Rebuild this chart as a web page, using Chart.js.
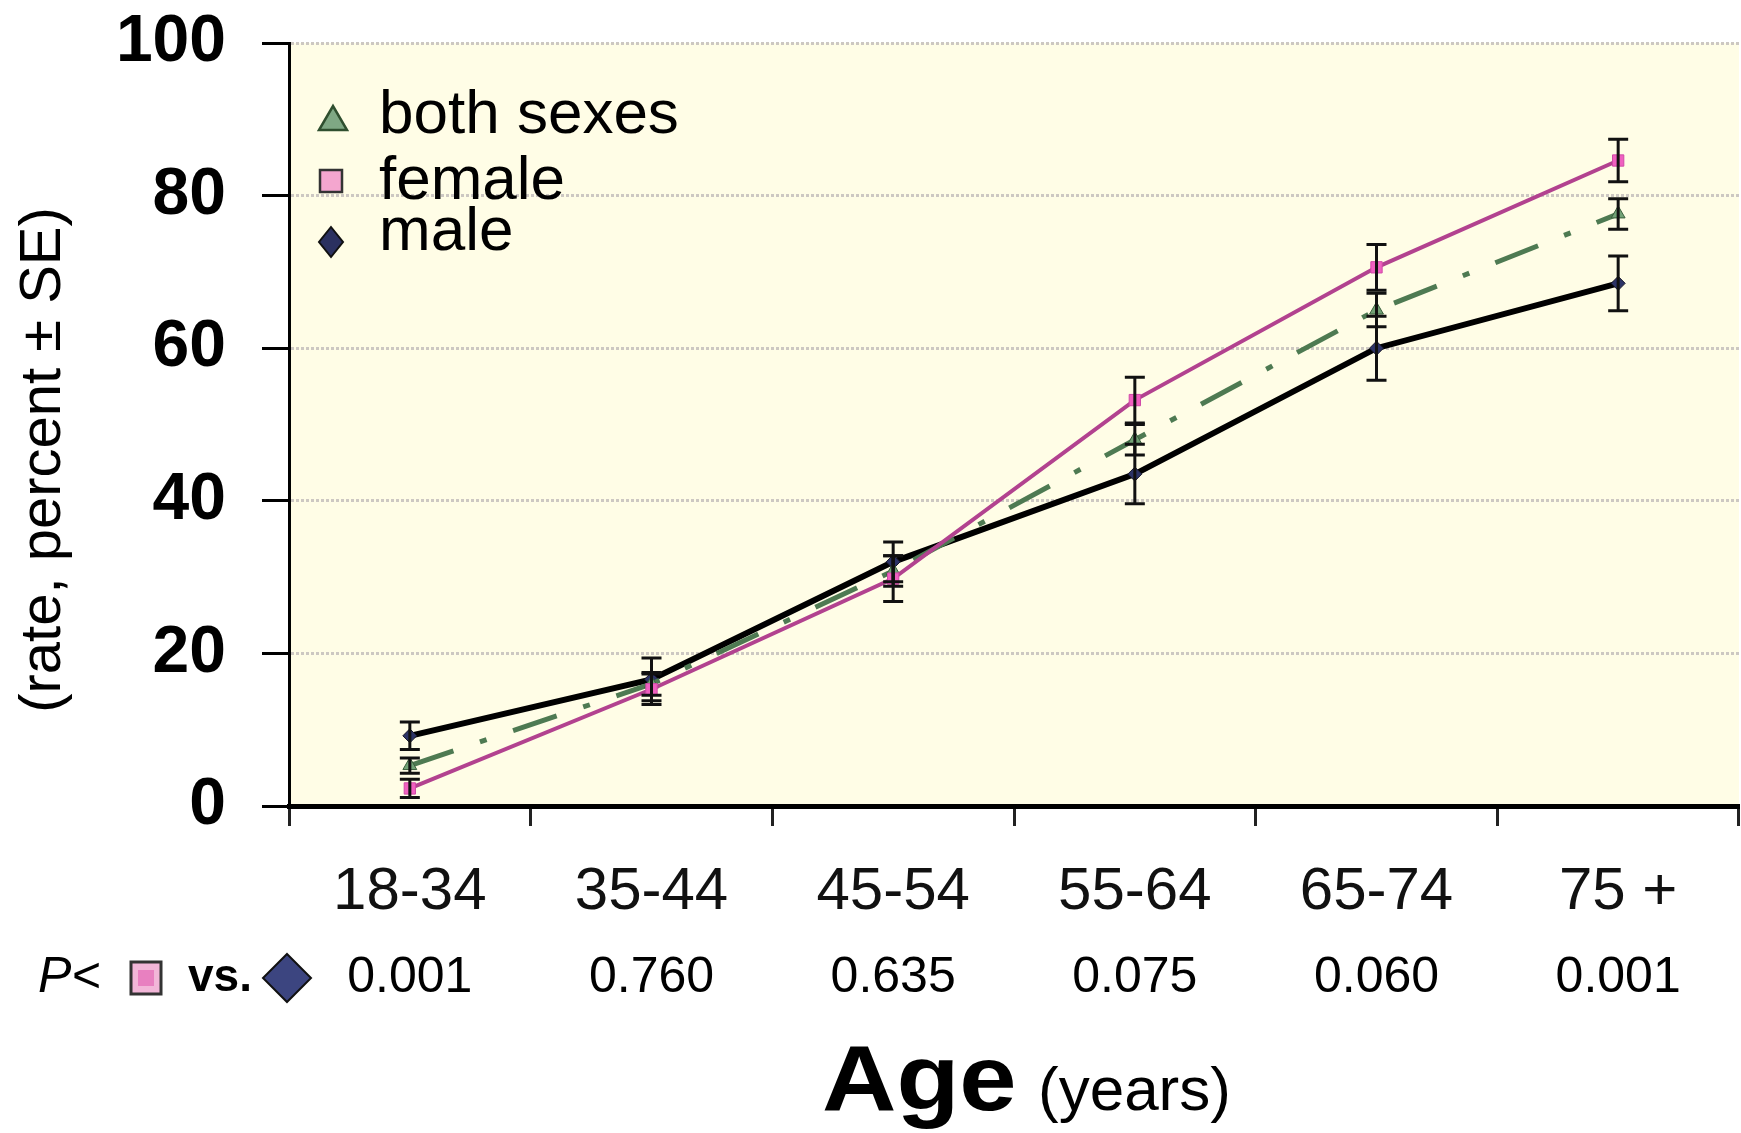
<!DOCTYPE html>
<html>
<head>
<meta charset="utf-8">
<script src="https://cdn.jsdelivr.net/npm/chart.js@4/dist/chart.umd.min.js"></script>
<style>
html, body { margin: 0; padding: 0; background: #fff; overflow: hidden; }
canvas { display: block; }
</style>
</head>
<body>
<canvas id="ageChart" width="1748" height="1133"></canvas>
<script>
// Values
var ageGroups = ['18-34', '35-44', '45-54', '55-64', '65-74', '75 +'];
var pValues = ['0.001', '0.760', '0.635', '0.075', '0.060', '0.001'];
var bothSexes = [5.3, 16.0, 30.8, 48.0, 65.0, 77.6];
var female = [2.3, 15.3, 29.8, 53.2, 70.6, 84.6];
var male = [9.2, 16.6, 32.0, 43.5, 60.0, 68.5];
var bothSE = [1.0, 1.5, 2.0, 2.0, 2.2, 2.0];
var femaleSE = [1.2, 2.0, 3.0, 3.0, 3.0, 2.8];
var maleSE = [1.8, 2.8, 2.6, 3.9, 4.2, 3.6];
var yTicks = [0, 20, 40, 60, 80, 100];

var FONT = '"Liberation Sans", Arial, sans-serif';

// cream plot background
var plotBg = {
    id: 'plotBg',
    beforeDraw: function(chart) {
        var a = chart.chartArea, ctx = chart.ctx;
        ctx.save();
        ctx.fillStyle = '#fffde6';
        ctx.fillRect(a.left, a.top, a.right - a.left, a.bottom - a.top);
        ctx.restore();
    }
};

// +/- SE whiskers, same order as datasets
var seLists = [femaleSE, bothSE, maleSE];
var errorBars = {
    id: 'errorBars',
    afterDatasetsDraw: function(chart) {
        var ctx = chart.ctx, y = chart.scales.y;
        ctx.save();
        ctx.strokeStyle = '#111';
        ctx.lineWidth = 3;
        chart.data.datasets.forEach(function(ds, i) {
            var meta = chart.getDatasetMeta(i);
            meta.data.forEach(function(pt, j) {
                var v = ds.data[j], e = seLists[i][j];
                var top = y.getPixelForValue(v + e), bot = y.getPixelForValue(v - e);
                ctx.beginPath();
                ctx.moveTo(pt.x, top); ctx.lineTo(pt.x, bot);
                ctx.moveTo(pt.x - 10, top); ctx.lineTo(pt.x + 10, top);
                ctx.moveTo(pt.x - 10, bot); ctx.lineTo(pt.x + 10, bot);
                ctx.stroke();
            });
        });
        ctx.restore();
    }
};

function diamond(ctx, cx, cy, w, h, fill, stroke) {
    ctx.beginPath();
    ctx.moveTo(cx, cy - h / 2);
    ctx.lineTo(cx + w / 2, cy);
    ctx.lineTo(cx, cy + h / 2);
    ctx.lineTo(cx - w / 2, cy);
    ctx.closePath();
    ctx.fillStyle = fill; ctx.fill();
    ctx.lineWidth = 2; ctx.strokeStyle = stroke; ctx.stroke();
}

// legend, p-value row, axis titles
var extras = {
    id: 'extras',
    afterDraw: function(chart) {
        var ctx = chart.ctx, x = chart.scales.x;
        ctx.save();
        ctx.fillStyle = '#000';

        // y axis title
        ctx.save();
        ctx.translate(44, 460);
        ctx.rotate(-Math.PI / 2);
        ctx.font = '58px ' + FONT;
        ctx.textAlign = 'center';
        ctx.textBaseline = 'middle';
        ctx.fillText('(rate, percent \u00b1 SE)', 0, 0);
        ctx.restore();

        // legend
        ctx.beginPath();
        ctx.moveTo(319, 130); ctx.lineTo(347, 130); ctx.lineTo(333, 106); ctx.closePath();
        ctx.fillStyle = '#7fa884'; ctx.fill();
        ctx.lineWidth = 2.5; ctx.strokeStyle = '#2f4f2f'; ctx.stroke();
        ctx.fillStyle = '#f4a6cf';
        ctx.fillRect(320, 170, 22, 22);
        ctx.strokeStyle = '#333'; ctx.strokeRect(320, 170, 22, 22);
        diamond(ctx, 331, 242, 24, 30, '#2b3160', '#111');
        ctx.fillStyle = '#000';
        ctx.font = '62px ' + FONT;
        ctx.textAlign = 'left';
        ctx.textBaseline = 'alphabetic';
        ctx.fillText('both sexes', 379, 133);
        ctx.fillText('female', 379, 199);
        ctx.fillText('male', 379, 250);

        // p-value row
        var rowY = 978;
        ctx.textBaseline = 'middle';
        ctx.font = 'italic 50px ' + FONT;
        ctx.fillText('P<', 38, rowY);
        ctx.fillStyle = '#f2b6d8';
        ctx.fillRect(131, 962, 30, 32);
        ctx.fillStyle = '#e880c0';
        ctx.fillRect(138, 970, 16, 16);
        ctx.lineWidth = 3; ctx.strokeStyle = '#333';
        ctx.strokeRect(131, 962, 30, 32);
        ctx.fillStyle = '#000';
        ctx.font = 'bold 46px ' + FONT;
        ctx.fillText('vs.', 188, rowY);
        diamond(ctx, 287, rowY, 48, 48, '#3c4580', '#111');
        ctx.fillStyle = '#000';
        ctx.font = '50px ' + FONT;
        ctx.textAlign = 'center';
        pValues.forEach(function(p, i) {
            ctx.fillText(p, x.getPixelForValue(i), rowY);
        });

        // x axis title
        ctx.textAlign = 'left';
        ctx.textBaseline = 'alphabetic';
        ctx.save();
        ctx.translate(822, 1110);
        ctx.scale(1.12, 1);
        ctx.font = 'bold 92px ' + FONT;
        ctx.fillText('Age', 0, 0);
        ctx.restore();
        ctx.font = '62px ' + FONT;
        ctx.fillText('(years)', 1038, 1110);
        ctx.restore();
    }
};

var ctx = document.getElementById('ageChart').getContext('2d');
var chart = new Chart(ctx, {
    type: 'line',
    data: {
        labels: ageGroups,
        datasets: [{
            label: 'female',
            data: female,
            borderColor: '#b2428f',
            borderWidth: 4,
            pointStyle: 'rect',
            pointRadius: 8,
            pointBackgroundColor: '#f060c0',
            pointBorderColor: '#d04aa8',
            pointBorderWidth: 1,
            tension: 0,
            fill: false
        }, {
            label: 'both sexes',
            data: bothSexes,
            borderColor: '#4e7a52',
            borderWidth: 5,
            borderDash: [46, 28, 7, 28],
            pointStyle: 'triangle',
            pointRadius: 8,
            pointBackgroundColor: '#72a276',
            pointBorderColor: '#3a5f3c',
            pointBorderWidth: 1,
            tension: 0,
            fill: false
        }, {
            label: 'male',
            data: male,
            borderColor: '#000',
            borderWidth: 6,
            pointStyle: 'rectRot',
            pointRadius: 7,
            pointBackgroundColor: '#2c3366',
            pointBorderColor: '#1a1a2a',
            pointBorderWidth: 1,
            tension: 0,
            fill: false
        }]
    },
    options: {
        responsive: false,
        animation: false,
        devicePixelRatio: 1,
        layout: { padding: { top: 43, left: 0, right: 0, bottom: 0 } },
        plugins: {
            legend: { display: false },
            tooltip: { enabled: false }
        },
        scales: {
            x: {
                type: 'category',
                offset: true,
                grid: {
                    offset: true,
                    drawOnChartArea: false,
                    drawTicks: true,
                    tickLength: 20,
                    tickColor: '#222',
                    tickWidth: 3
                },
                border: { color: '#000', width: 5 },
                ticks: {
                    color: '#111',
                    font: { family: FONT, size: 60 },
                    padding: 30,
                    maxRotation: 0,
                    autoSkip: false
                },
                afterFit: function(s) { s.height = 327; }
            },
            y: {
                min: 0,
                max: 100,
                afterBuildTicks: function(axis) {
                    axis.ticks = yTicks.map(function(v) { return { value: v }; });
                },
                grid: {
                    color: '#cdc8c2',
                    lineWidth: 3,
                    tickLength: 27,
                    tickColor: '#000',
                    tickWidth: 3,
                    tickBorderDash: []
                },
                border: { color: '#000', width: 3, dash: [3, 2] },
                ticks: {
                    color: '#000',
                    font: { family: FONT, size: 66, weight: 'bold' },
                    padding: 36
                },
                afterFit: function(s) {
                    s.width = 289;
                    s.paddingTop = 0;
                    s.paddingBottom = 0;
                }
            }
        }
    },
    plugins: [plotBg, errorBars, extras]
});
</script>
</body>
</html>
